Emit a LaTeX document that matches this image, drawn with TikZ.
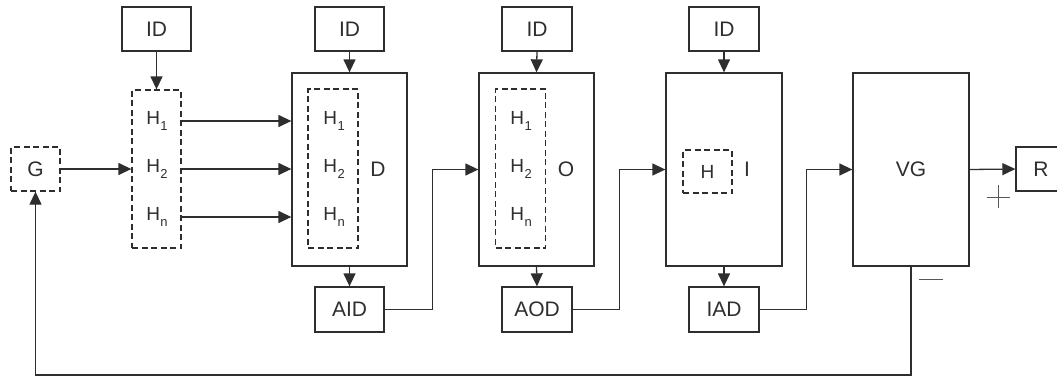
\documentclass[tikz,border=0pt]{standalone}
\usepackage{fontspec}
\setmainfont{Liberation Sans}
\usetikzlibrary{arrows.meta}
\definecolor{ink}{HTML}{2E2E2E}
\newcommand{\Hsub}[1]{{\fontsize{19}{20}\selectfont H\kern0.5pt\raisebox{-5.5pt}{\fontsize{13}{13}\selectfont #1}}}
\tikzset{
  every node/.style={font=\fontsize{21}{22}\selectfont, text=ink},
  blk/.style={draw=ink, line width=1.3pt, inner sep=0pt},
  dbox/.style={draw=ink, line width=1.3pt, inner sep=0pt, dash pattern=on 6pt off 3.5pt},
  arr/.style={draw=ink, line width=1.3pt, -{Triangle[length=13pt,width=12pt]}},
  sign/.style={draw=ink!80, line width=1pt},
}
\begin{document}
\begin{tikzpicture}[x=1pt, y=-1pt]
\useasboundingbox (0,0) rectangle (1057,376);
\clip (0,0) rectangle (1057,376);

% input devices on top
\node[blk, minimum width=69pt, minimum height=44pt] (id1) at (156.5,29) {ID};
\node[blk, minimum width=69pt, minimum height=44pt] (id2) at (349.5,29) {ID};
\node[blk, minimum width=70pt, minimum height=44pt] (id3) at (537,29) {ID};
\node[blk, minimum width=70pt, minimum height=44pt] (id4) at (724,29) {ID};

% generator and the header stack
\node[dbox, minimum width=49pt, minimum height=44pt] (G) at (35.5,169) {G};
\node[dbox, minimum width=49pt, minimum height=158pt] (Hs) at (156.5,169) {};
\node (a1) at (157,121) {\Hsub{1}};
\node (a2) at (157,169) {\Hsub{2}};
\node (an) at (157,217) {\Hsub{n}};

% processing blocks
\node[blk, minimum width=115pt, minimum height=193pt] (D) at (349.5,169.5) {};
\node[blk, minimum width=115pt, minimum height=193pt] (O) at (536.5,169.5) {};
\node[blk, minimum width=116pt, minimum height=193pt] (I) at (724,169.5) {};
\node[blk, minimum width=116pt, minimum height=193pt] (VG) at (911,169.5) {VG};

% contents of D
\node[dbox, minimum width=50pt, minimum height=159pt] (Dh) at (333,168.5) {};
\node (d1) at (334,121) {\Hsub{1}};
\node (d2) at (334,169) {\Hsub{2}};
\node (dn) at (334,217) {\Hsub{n}};
\node (Dl) at (378,169) {D};

% contents of O
\node[dbox, minimum width=50pt, minimum height=159pt] (Oh) at (520.5,168.5) {};
\node (o1) at (521,121) {\Hsub{1}};
\node (o2) at (521,169) {\Hsub{2}};
\node (on) at (521,217) {\Hsub{n}};
\node (Ol) at (566,169) {O};

% contents of I
\node[dbox, minimum width=49pt, minimum height=43pt] (Ih) at (707.5,171.5) {\fontsize{19}{20}\selectfont H};
\node (Il) at (747,169) {I};

% output blocks
\node[blk, minimum width=69pt, minimum height=45pt] (aid) at (349.5,309.5) {AID};
\node[blk, minimum width=70pt, minimum height=45pt] (aod) at (537,309.5) {AOD};
\node[blk, minimum width=70pt, minimum height=45pt] (iad) at (724,309.5) {IAD};

% result
\node[blk, minimum width=50pt, minimum height=44pt] (R) at (1041,169) {R};

% connectors
\draw[arr] (id1.south) -- (Hs.north);
\draw[arr] (id2.south) -- (D.north);
\draw[arr] (id3.south) -- (O.north);
\draw[arr] (id4.south) -- (I.north);

\draw[arr] (G.east) -- (Hs.west);
\draw[arr] (Hs.east |- a1) -- (D.west |- a1);
\draw[arr] (Hs.east |- a2) -- (D.west |- a2);
\draw[arr] (Hs.east |- an) -- (D.west |- an);

\draw[arr] (D.south) -- (aid.north);
\draw[arr] (O.south) -- (aod.north);
\draw[arr] (I.south) -- (iad.north);

\draw[arr] (aid.east) -- ++(48,0) |- (O.west);
\draw[arr] (aod.east) -- ++(47,0) |- (I.west);
\draw[arr] (iad.east) -- ++(47,0) |- (VG.west);

\draw[arr] (VG.east) -- (R.west);

\coordinate (fb) at (0,375);
\draw[arr] (VG.south) -- (VG.south |- fb) -| (G.south);

% signs
\draw[sign] (987,197) -- (1010,197);
\draw[sign] (998.5,185) -- (998.5,208);
\draw[sign] (919,279) -- (943,279);
\end{tikzpicture}
\end{document}
